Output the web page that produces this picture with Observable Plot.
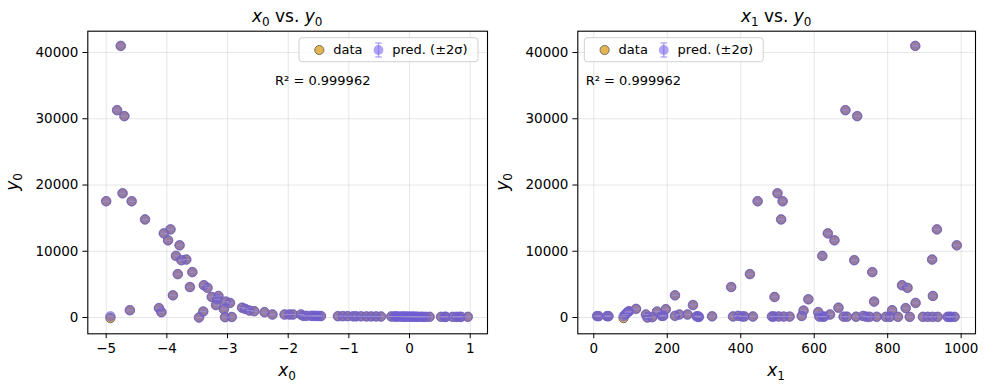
<!DOCTYPE html>
<html><head><meta charset="utf-8">
<script src="https://cdn.jsdelivr.net/npm/d3@7"></script>
<script src="https://cdn.jsdelivr.net/npm/@observablehq/plot@0.6"></script>
<style>
body{margin:0;background:#fff;}
#wrap{position:relative;width:988px;height:390px;display:flex;font-family:"DejaVu Sans",sans-serif;}
#wrap svg{display:block;}
</style></head><body><div id="wrap"></div>
<script>
// observed target y0 (data)
const y0 = [41000,31300,30400,18750,17550,17550,14800,13300,12700,11650,10900,9300,8750,8650,6850,6550,4870,4600,4480,3350,3250,3100,2750,2400,2200,1880,1480,1420,1300,1250,1100,1050,950,900,800,800,450,450,450,450,450,
 -100,0,50,80,250,250,250,250,230,230,220,200,200,200,180,180,180,160,160,160,150,150,150,150,140,140,140,130,130,130,120,120,120,110,110,110,100,100,100,100,100,100,100,100,100,100,100];
// feature x0
const x0 = [-4.76,-4.82,-4.70,-4.73,-5.00,-4.58,-4.36,-3.94,-4.05,-3.98,-3.79,-3.85,-3.68,-3.76,-3.58,-3.82,-3.39,-3.62,-3.33,-3.90,-3.15,-3.26,-3.17,-3.03,-2.96,-3.19,-2.76,-4.13,-2.71,-3.06,-4.61,-2.64,-2.56,-3.40,-4.09,-2.39,-2.26,-2.06,-1.98,-1.92,-1.79,
 -4.93,-3.47,-3.04,-2.93,-1.75,-1.70,-1.62,-1.58,-1.54,-1.50,-1.46,-1.18,-1.10,-1.02,-0.93,-0.88,-0.80,-0.71,-0.63,-0.55,-0.47,-0.30,-0.25,-0.22,-0.19,-0.14,-0.11,-0.08,-0.05,-0.02,0.02,0.05,0.08,0.11,0.14,0.19,0.22,0.27,0.33,0.52,0.58,0.60,0.71,0.77,0.82,0.85,0.96];
// feature x1
const x1 = [875,685,717,500,446,514,510,934,637,655,988,622,921,709,758,425,839,374,854,221,923,492,584,763,876,270,666,849,115,196,812,571,96,172,92,611,255,86,142,643,233,
 81,146,159,286,185,221,189,393,566,733,9,13,36,40,280,284,322,379,404,410,433,485,490,503,517,533,614,623,627,680,689,714,742,751,770,795,806,828,860,896,909,922,936,963,968,973,982];
// model prediction (mean)
const yPred = [41000,31300,30400,18750,17550,17550,14800,13300,12700,11650,10900,9300,8750,8650,6850,6550,4870,4600,4480,3350,3250,3100,2750,2400,2200,1880,1480,1420,1300,1250,1100,1050,950,900,800,800,450,450,450,450,450,
 180,0,50,80,250,250,250,250,230,230,220,200,200,200,180,180,180,160,160,160,150,150,150,150,140,140,140,130,130,130,120,120,120,110,110,110,100,100,100,100,100,100,100,100,100,100,100];

const xTicks0 = [-5,-4,-3,-2,-1,0,1];
const xTicks1 = [0,200,400,600,800,1000];
const yTicks = [0,10000,20000,30000,40000];
const r2Label = "R² = 0.999962";
const legendLabels = ["data", "pred. (±2σ)"];

const rows = y0.map((y, i) => ({y, yp: yPred[i], x0: x0[i], x1: x1[i]}));

const DATA_FILL = "#e2b454";
const PRED = "#6a5acd";
const FONT = "'DejaVu Sans', sans-serif";
const TICK_FS = 13.5;
const capSymbol = {draw(ctx) { ctx.moveTo(-3.3, 0); ctx.lineTo(3.3, 0); }};

function panel(key, xDomain, xTicks, mLeft, mRight, idx, r2x, legX, ylabX) {
  const W = 494;
  const fmt = d3.format("d");
  const p = Plot.plot({
    width: W, height: 390,
    marginLeft: mLeft, marginRight: mRight, marginTop: 30.7, marginBottom: 56.7,
    style: {fontFamily: FONT, fontSize: TICK_FS + "px", color: "#000", background: "#fff", overflow: "visible"},
    x: {domain: xDomain, ticks: xTicks, tickFormat: fmt, label: null},
    y: {domain: [-2460, 43220], ticks: yTicks, tickFormat: fmt, label: null},
    marks: [
      Plot.gridX(xTicks, {stroke: "#b0b0b0", strokeOpacity: 0.4, strokeWidth: 0.8}),
      Plot.gridY(yTicks, {stroke: "#b0b0b0", strokeOpacity: 0.4, strokeWidth: 0.8}),
      Plot.dot(rows, {x: key, y: "y", r: 4.6, fill: DATA_FILL, stroke: "#333", strokeWidth: 0.6}),
      Plot.dot(rows, {x: key, y: "yp", r: 4.9, fill: PRED, fillOpacity: 0.62, stroke: "#7b68ee", strokeOpacity: 0.55, strokeWidth: 0.8}),
      Plot.dot(rows, {x: key, y: "yp", symbol: capSymbol, fill: "none", stroke: "#9d8fd0", strokeOpacity: 0.9, strokeWidth: 1}),
      Plot.frame({stroke: "#000", strokeWidth: 1.1}),
      Plot.axisX(xTicks, {tickSize: 4.9, tickPadding: 4.5, fontSize: TICK_FS, label: null, tickFormat: fmt}),
      Plot.axisY(yTicks, {tickSize: 4.9, tickPadding: 4.5, fontSize: TICK_FS, label: null, tickFormat: fmt})
    ]
  });
  const svg = d3.select(p);
  const cx = mLeft + (W - mLeft - mRight) / 2;
  const sub = String(idx);
  const FS = 17, SS = 12, DY = 3.8;
  // title
  const t = svg.append("text").attr("x", cx).attr("y", 22).attr("text-anchor", "middle")
    .attr("font-size", FS).attr("font-family", FONT).attr("fill", "#000");
  t.append("tspan").attr("font-style", "italic").text("x");
  t.append("tspan").attr("font-size", SS).attr("dy", DY).text(sub);
  t.append("tspan").attr("dy", -DY).text(" vs. ");
  t.append("tspan").attr("font-style", "italic").text("y");
  t.append("tspan").attr("font-size", SS).attr("dy", DY).text("0");
  // x label
  const xl = svg.append("text").attr("x", cx).attr("y", 376).attr("text-anchor", "middle")
    .attr("font-size", FS).attr("font-family", FONT).attr("fill", "#000");
  xl.append("tspan").attr("font-style", "italic").text("x");
  xl.append("tspan").attr("font-size", SS).attr("dy", DY).text(sub);
  // y label
  const cy = 30.7 + (390 - 30.7 - 56.7) / 2;
  const yl = svg.append("text").attr("transform", `translate(${ylabX},${cy}) rotate(-90)`).attr("text-anchor", "middle")
    .attr("font-size", FS).attr("font-family", FONT).attr("fill", "#000");
  yl.append("tspan").attr("font-style", "italic").text("y");
  yl.append("tspan").attr("font-size", SS).attr("dy", DY).text("0");
  // R² annotation
  svg.append("text").attr("x", r2x).attr("y", 84.5).attr("font-size", 13).attr("text-anchor", "start")
    .attr("font-family", FONT).attr("fill", "#000").text(r2Label);
  // legend
  const g = svg.append("g").attr("transform", `translate(${legX},37.7)`);
  g.append("rect").attr("width", 179).attr("height", 24).attr("rx", 3)
    .attr("fill", "#fff").attr("fill-opacity", 0.8).attr("stroke", "#d0d0d0").attr("stroke-width", 1);
  g.append("circle").attr("cx", 20.3).attr("cy", 12.3).attr("r", 4.6).attr("fill", DATA_FILL).attr("stroke", "#333").attr("stroke-width", 0.6);
  g.append("text").attr("x", 34.3).attr("y", 16.8).attr("font-size", 13).attr("text-anchor", "start").attr("fill", "#000").attr("font-family", FONT).text(legendLabels[0]);
  const ic = g.append("g").attr("transform", "translate(79.5,12.3)").attr("stroke", "#7b68ee").attr("stroke-opacity", 0.6);
  ic.append("line").attr("x1", 0).attr("x2", 0).attr("y1", -7).attr("y2", 7).attr("stroke-width", 1.3);
  ic.append("line").attr("x1", -3.3).attr("x2", 3.3).attr("y1", -7).attr("y2", -7).attr("stroke-width", 1.3);
  ic.append("line").attr("x1", -3.3).attr("x2", 3.3).attr("y1", 7).attr("y2", 7).attr("stroke-width", 1.3);
  ic.append("circle").attr("r", 4.9).attr("fill", "#7b68ee").attr("fill-opacity", 0.6).attr("stroke", "none");
  g.append("text").attr("x", 93.3).attr("y", 16.8).attr("font-size", 13).attr("text-anchor", "start").attr("fill", "#000").attr("font-family", FONT).text(legendLabels[1]);
  return p;
}

const wrap = document.getElementById("wrap");
wrap.appendChild(panel("x0", [-5.303, 1.285], xTicks0, 87.3, 7, 0, 275, 299, 18));
wrap.appendChild(panel("x1", [-43.5, 1039], xTicks1, 83.3, 13, 1, 91.7, 90.3, 14));
</script></body></html>
